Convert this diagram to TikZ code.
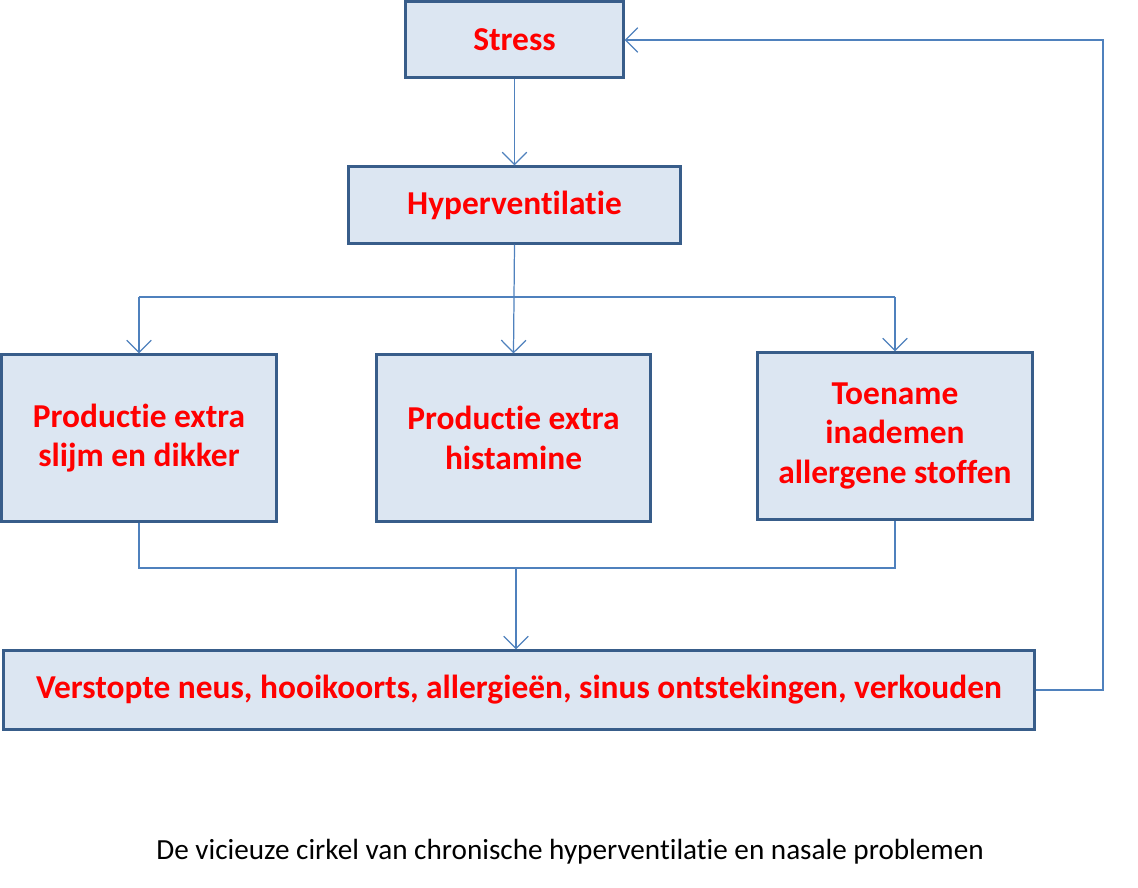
\documentclass[tikz,border=0pt]{standalone}
\usepackage{fontspec}
\setmainfont[Ligatures=NoCommon]{Carlito}
\usetikzlibrary{arrows.meta}
\definecolor{boxfill}{HTML}{DCE6F2}
\definecolor{boxline}{HTML}{385D8A}
\definecolor{conn}{HTML}{4F81BD}
\begin{document}
\begin{tikzpicture}[x=0.01cm,y=-0.01cm,
  box/.style={draw=boxline,line width=0.85pt,fill=boxfill,inner sep=0pt,align=center,
    text=red,font=\fontsize{9.5}{11.3}\selectfont\bfseries},
  conn/.style={draw=conn,line width=0.35pt},
  arr/.style={conn,-{Straight Barb[length=3.5pt,width=7pt]}}]
\useasboundingbox (0,0) rectangle (1138,888);
\node[box,minimum width=2.17cm,minimum height=0.75cm] (stress) at (514.5,39.5) {Stress};
\node[box,minimum width=3.31cm,minimum height=0.76cm] (hyper) at (514.5,205) {Hyperventilatie};
\node[box,minimum width=2.74cm,minimum height=1.66cm] (left) at (139,438) {Productie extra\\slijm en dikker};
\node[box,minimum width=2.73cm,minimum height=1.66cm] (mid) at (513.5,438) {Productie extra\\histamine};
\node[box,minimum width=2.74cm,minimum height=1.66cm] (right) at (895,436) {Toename\\inademen\\allergene stoffen};
\node[box,minimum width=10.30cm,minimum height=0.78cm] (bottom) at (519,690) {Verstopte neus, hooikoorts, allergieën, sinus ontstekingen, verkouden};
\node[font=\fontsize{8.3}{10}\selectfont] (cap) at (570,852) {De vicieuze cirkel van chronische hyperventilatie en nasale problemen};
\coordinate (bl) at (139,297);
\coordinate (br) at (895,297);
\coordinate (jl) at (139,568);
\coordinate (jr) at (895,568);
\coordinate (jm) at (516,568);
\coordinate (fb1) at (1103,690);
\coordinate (fb2) at (1103,40);
\draw[arr] (stress) -- (hyper);
\draw[arr] (hyper.south) -- (mid.north);
\draw[conn] (bl) -- (br);
\draw[arr] (bl) -- (left.north);
\draw[arr] (br) -- (right.north);
\draw[conn] (left.south) -- (jl) -- (jr) -- (right.south);
\draw[arr] (jm) -- (jm |- bottom.north);
\draw[arr] (bottom.east) -- (fb1) -- (fb2) -- (stress.east |- fb2);
\end{tikzpicture}
\end{document}
